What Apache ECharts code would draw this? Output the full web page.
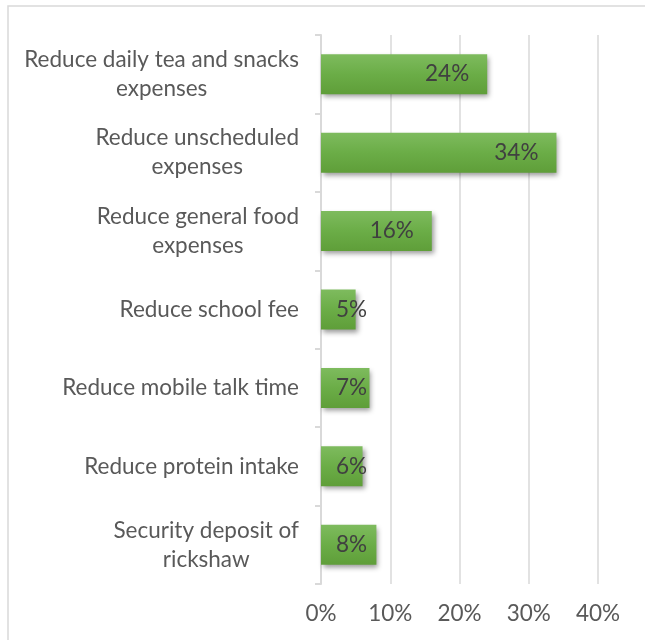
<!DOCTYPE html>
<html>
<head>
<meta charset="utf-8">
<script src="https://cdn.jsdelivr.net/npm/echarts@6/dist/echarts.min.js"></script>
<style>
  html, body { margin: 0; padding: 0; background: #fff; }
  #main { width: 645px; height: 640px; }
</style>
</head>
<body>
<div id="main"></div>
<script>
var categories = [
    'Reduce daily tea and snacks\nexpenses',
    'Reduce unscheduled\nexpenses',
    'Reduce general food\nexpenses',
    'Reduce school fee',
    'Reduce mobile talk time',
    'Reduce protein intake',
    'Security deposit of\nrickshaw'
];
var values = [24, 34, 16, 5, 7, 6, 8];
var axisMax = 40;
var axisStep = 10;

var font = 'Lato';
var textColor = '#595959';

var myChart = echarts.init(document.getElementById('main'));

var barData = values.map(function (v) {
    var small = v < 10;
    return {
        value: v,
        label: {
            position: small ? 'insideLeft' : 'insideRight',
            distance: small ? 15 : 18
        }
    };
});

option = {
    backgroundColor: '#fff',
    animation: false,
    graphic: [{
        type: 'rect',
        shape: { x: 8, y: 6, width: 700, height: 700 },
        style: { fill: 'none', stroke: '#d9d9d9', lineWidth: 1.5 },
        silent: true
    }],
    grid: {
        left: 321,
        right: 47,
        top: 35,
        bottom: 56
    },
    xAxis: {
        type: 'value',
        min: 0,
        max: axisMax,
        interval: axisStep,
        axisLine: { show: false },
        axisTick: { show: false },
        splitLine: { lineStyle: { color: '#d9d9d9', width: 1.5 } },
        axisLabel: {
            formatter: '{value}%',
            color: textColor,
            fontFamily: font,
            fontSize: 22.5,
            margin: 18
        }
    },
    yAxis: {
        type: 'category',
        inverse: true,
        data: categories,
        axisLine: { show: true, lineStyle: { color: '#d9d9d9', width: 2 } },
        axisTick: { show: true, length: 6, lineStyle: { color: '#d9d9d9', width: 2 } },
        axisLabel: {
            margin: 22,
            color: textColor,
            fontFamily: font,
            fontSize: 22.5,
            formatter: function (name) {
                return name.split('\n').map(function (line) {
                    return '{c|' + line + '}';
                }).join('\n');
            },
            rich: {
                c: {
                    align: 'center',
                    color: textColor,
                    fontFamily: font,
                    fontSize: 22.5,
                    lineHeight: 29
                }
            }
        }
    },
    series: [{
        type: 'bar',
        data: barData,
        barWidth: 40,
        itemStyle: {
            color: new echarts.graphic.LinearGradient(0, 0, 0, 1, [
                { offset: 0, color: '#7ebb5e' },
                { offset: 0.5, color: '#6bad47' },
                { offset: 1, color: '#5f9e39' }
            ]),
            shadowColor: 'rgba(0,0,0,0.4)',
            shadowBlur: 5,
            shadowOffsetX: 2,
            shadowOffsetY: 3
        },
        label: {
            show: true,
            formatter: '{c}%',
            color: '#404040',
            fontFamily: font,
            fontSize: 22.5
        }
    }]
};

myChart.setOption(option);
</script>
</body>
</html>
